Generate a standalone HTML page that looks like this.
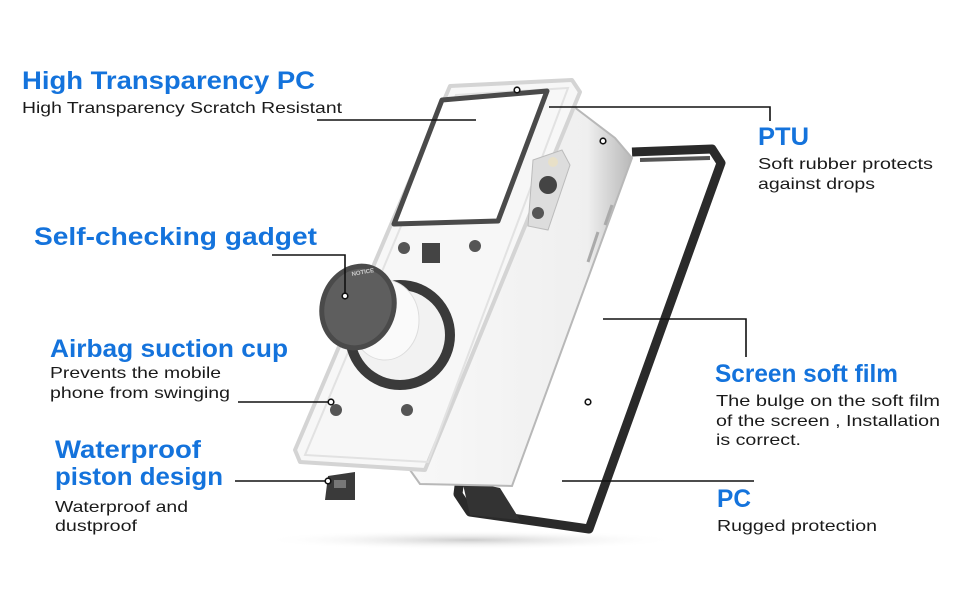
<!DOCTYPE html>
<html><head><meta charset="utf-8"><style>
html,body{margin:0;padding:0;background:#fff;}
svg{display:block;}
.h{font-family:"Liberation Sans",sans-serif;font-weight:bold;fill:#1473dc;font-size:25px;}
.t{font-family:"Liberation Sans",sans-serif;fill:#1a1a1a;font-size:16px;}
</style></head><body>
<svg width="970" height="600" viewBox="0 0 970 600" xmlns="http://www.w3.org/2000/svg">
<defs>
<linearGradient id="ph" x1="0" y1="0" x2="1" y2="0"><stop offset="0" stop-color="#f8f8f8"/><stop offset="0.8" stop-color="#efefef"/><stop offset="1" stop-color="#b8b8b8"/></linearGradient>
<radialGradient id="sh" cx="0.5" cy="0.5" r="0.5"><stop offset="0" stop-color="#ccc"/><stop offset="1" stop-color="#fff" stop-opacity="0"/></radialGradient>
</defs>
<ellipse cx="470" cy="540" rx="210" ry="10" fill="url(#sh)"/>
<!-- black PTU frame -->
<polyline points="632,152 712,149 721,163 589,529 470,512 458,494 460,478" fill="none" stroke="#2a2a2a" stroke-width="9" stroke-linejoin="round"/>
<polyline points="640,160 710,158" fill="none" stroke="#555" stroke-width="4"/>
<polygon points="462,480 500,488 520,520 470,515" fill="#333"/>
<!-- phone body -->
<polygon points="565,100 615,138 632,158 512,486 420,484 410,470" fill="url(#ph)" stroke="#b8b8b8" stroke-width="2"/>
<!-- clear case -->
<polygon points="450,86 572,80 580,92 425,470 300,462 295,450" fill="#f7f7f7" stroke="#d4d4d4" stroke-width="4" stroke-linejoin="round"/>
<polygon points="456,95 568,88 428,462 305,455" fill="none" stroke="#e2e2e2" stroke-width="2"/>
<!-- window frame -->
<polygon points="442,100 547,91 498,221 394,224" fill="#fff" stroke="#4a4a4a" stroke-width="5" stroke-linejoin="round"/>
<!-- camera -->
<path d="M533,160 L562,150 L570,165 L548,230 L528,226 Z" fill="#ddd" stroke="#bbb"/>
<circle cx="548" cy="185" r="9" fill="#444"/><circle cx="553" cy="162" r="5" fill="#e8e0c8"/><circle cx="538" cy="213" r="6" fill="#555"/>
<line x1="598" y1="232" x2="588" y2="262" stroke="#aaa" stroke-width="3"/>
<line x1="612" y1="205" x2="605" y2="225" stroke="#aaa" stroke-width="3"/>
<!-- studs -->
<circle cx="404" cy="248" r="6" fill="#555"/><circle cx="475" cy="246" r="6" fill="#555"/>
<circle cx="336" cy="410" r="6" fill="#555"/><circle cx="407" cy="410" r="6" fill="#555"/>
<!-- suction cup -->
<circle cx="400" cy="335" r="55" fill="#3a3a3a"/>
<circle cx="400" cy="335" r="45" fill="#f2f2f2"/>
<ellipse cx="385" cy="320" rx="34" ry="40" fill="#fafafa" stroke="#ddd"/>
<rect x="422" y="243" width="18" height="20" fill="#444"/>
<ellipse cx="358" cy="307" rx="38" ry="44" fill="#4a4a4a" transform="rotate(20 358 307)"/>
<ellipse cx="358" cy="307" rx="33" ry="39" fill="#5e5e5e" transform="rotate(20 358 307)"/>
<text x="352" y="276" font-family="Liberation Sans,sans-serif" font-size="6" font-weight="bold" fill="#ccc" transform="rotate(-10 352 276)">NOTICE</text>
<!-- piston -->
<polygon points="328,476 355,472 355,500 325,500" fill="#3a3a3a"/>
<rect x="334" y="480" width="12" height="8" fill="#777"/>
<!-- connectors -->
<g stroke="#111" stroke-width="1.6" fill="none">
<line x1="317" y1="120" x2="476" y2="120"/>
<polyline points="549,107 770,107 770,121"/>
<polyline points="272,255 345,255 345,296"/>
<line x1="238" y1="402" x2="330" y2="402"/>
<line x1="235" y1="481" x2="328" y2="481"/>
<polyline points="603,319 746,319 746,357"/>
<line x1="562" y1="481" x2="754" y2="481"/>
</g>
<g fill="#fff" stroke="#111" stroke-width="1.6">
<circle cx="517" cy="90" r="2.8"/><circle cx="603" cy="141" r="2.8"/><circle cx="345" cy="296" r="2.8"/>
<circle cx="331" cy="402" r="2.8"/><circle cx="328" cy="481" r="2.8"/><circle cx="588" cy="402" r="2.8"/>
</g>
<!-- labels -->
<text class="h" x="22" y="89" textLength="293" lengthAdjust="spacingAndGlyphs">High Transparency PC</text>
<text class="t" x="22" y="113" textLength="320" lengthAdjust="spacingAndGlyphs">High Transparency Scratch Resistant</text>
<text class="h" x="34" y="245" textLength="283" lengthAdjust="spacingAndGlyphs">Self-checking gadget</text>
<text class="h" x="50" y="357" textLength="238" lengthAdjust="spacingAndGlyphs">Airbag suction cup</text>
<text class="t" x="50" y="378" textLength="171" lengthAdjust="spacingAndGlyphs">Prevents the mobile</text>
<text class="t" x="50" y="398" textLength="180" lengthAdjust="spacingAndGlyphs">phone from swinging</text>
<text class="h" x="55" y="458" textLength="146" lengthAdjust="spacingAndGlyphs">Waterproof</text>
<text class="h" x="55" y="485" textLength="168" lengthAdjust="spacingAndGlyphs">piston design</text>
<text class="t" x="55" y="512" textLength="133" lengthAdjust="spacingAndGlyphs">Waterproof and</text>
<text class="t" x="55" y="531" textLength="82" lengthAdjust="spacingAndGlyphs">dustproof</text>
<text class="h" x="758" y="145" textLength="51" lengthAdjust="spacingAndGlyphs">PTU</text>
<text class="t" x="758" y="169" textLength="175" lengthAdjust="spacingAndGlyphs">Soft rubber protects</text>
<text class="t" x="758" y="189" textLength="117" lengthAdjust="spacingAndGlyphs">against drops</text>
<text class="h" x="715" y="382" textLength="183" lengthAdjust="spacingAndGlyphs">Screen soft film</text>
<text class="t" x="716" y="406" textLength="224" lengthAdjust="spacingAndGlyphs">The bulge on the soft film</text>
<text class="t" x="716" y="426" textLength="224" lengthAdjust="spacingAndGlyphs">of the screen , Installation</text>
<text class="t" x="716" y="445" textLength="85" lengthAdjust="spacingAndGlyphs">is correct.</text>
<text class="h" x="717" y="507" textLength="34" lengthAdjust="spacingAndGlyphs">PC</text>
<text class="t" x="717" y="531" textLength="160" lengthAdjust="spacingAndGlyphs">Rugged protection</text>
</svg>
</body></html>
